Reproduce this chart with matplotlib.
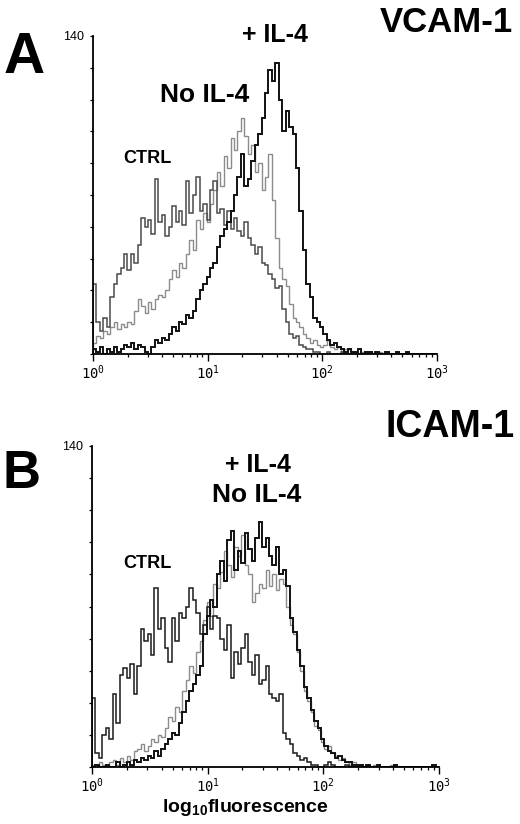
import numpy as np
import matplotlib
matplotlib.use('Agg')
import matplotlib.pyplot as plt
from matplotlib.ticker import LogLocator, NullFormatter

plt.rcParams['font.family'] = ['Liberation Sans', 'DejaVu Sans']
plt.rcParams['mathtext.fontset'] = 'custom'
plt.rcParams['mathtext.rm'] = 'Liberation Sans:bold'
plt.rcParams['mathtext.tt'] = 'DejaVu Sans Mono'

# 100 log-spaced channels from 10^0 to 10^3
edges = np.logspace(0, 3, 101)

# panel A - VCAM-1
vcam_ctrl = [31, 14, 10, 16, 12, 25, 31, 35, 38, 44,
             37, 44, 40, 48, 60, 56, 59, 53, 77, 58,
             61, 52, 56, 65, 58, 63, 57, 76, 62, 70,
             78, 63, 66, 59, 72, 76, 62, 64, 57, 63,
             55, 60, 54, 52, 58, 51, 48, 44, 47, 40,
             39, 35, 33, 29, 30, 20, 14, 9, 7, 8,
             4, 3, 2, 2, 1, 1, 0, 0, 1, 0,
             0, 0, 1, 0, 0, 0, 0, 0, 0, 0,
             0, 0, 0, 0, 0, 0, 0, 0, 0, 0,
             0, 0, 0, 0, 0, 0, 0, 0, 0, 0]
vcam_noil4 = [5, 8, 7, 10, 9, 12, 14, 11, 13, 12,
              14, 13, 19, 24, 21, 18, 23, 20, 24, 26,
              25, 28, 33, 37, 34, 40, 38, 44, 50, 46,
              59, 55, 62, 58, 66, 72, 80, 74, 87, 82,
              95, 90, 98, 104, 96, 88, 92, 80, 84, 72,
              78, 88, 68, 51, 38, 33, 30, 22, 16, 14,
              12, 9, 7, 5, 6, 4, 3, 4, 6, 3,
              2, 3, 1, 2, 2, 1, 1, 0, 1, 0,
              1, 0, 0, 1, 0, 0, 0, 0, 0, 0,
              0, 0, 0, 0, 0, 0, 0, 0, 0, 0]
vcam_il4 = [2, 1, 3, 0, 2, 1, 3, 1, 2, 4,
            3, 5, 2, 4, 3, 1, 0, 3, 6, 5,
            7, 6, 9, 12, 10, 14, 13, 17, 16, 19,
            24, 28, 31, 34, 38, 40, 47, 52, 55, 58,
            63, 70, 78, 88, 74, 77, 85, 92, 97, 104,
            115, 125, 120, 128, 112, 98, 107, 100, 97, 82,
            63, 46, 31, 25, 16, 14, 12, 9, 6, 4,
            5, 3, 2, 1, 2, 1, 1, 2, 0, 1,
            1, 0, 1, 0, 0, 1, 0, 0, 1, 0,
            0, 1, 0, 0, 0, 0, 0, 0, 0, 0]

# panel B - ICAM-1
icam_ctrl = [30, 6, 4, 14, 17, 12, 32, 19, 40, 43,
             39, 45, 32, 44, 60, 55, 58, 49, 78, 60,
             65, 52, 46, 65, 55, 67, 65, 70, 78, 73,
             67, 58, 62, 70, 60, 66, 65, 56, 51, 62,
             39, 50, 45, 52, 58, 46, 40, 49, 36, 38,
             44, 32, 30, 29, 32, 15, 12, 10, 6, 5,
             3, 4, 2, 1, 1, 0, 0, 1, 2, 1,
             0, 0, 0, 1, 0, 0, 0, 0, 0, 0,
             0, 0, 0, 0, 0, 0, 0, 0, 0, 0,
             0, 0, 0, 0, 0, 0, 0, 0, 0, 0]
icam_noil4 = [1, 0, 2, 1, 0, 2, 3, 1, 4, 2,
              5, 3, 7, 8, 10, 7, 9, 12, 11, 14,
              13, 17, 22, 20, 26, 24, 33, 38, 44, 41,
              50, 55, 64, 72, 66, 80, 78, 85, 94, 88,
              83, 96, 92, 101, 88, 84, 72, 76, 80, 78,
              86, 79, 84, 77, 82, 80, 70, 62, 58, 50,
              42, 33, 29, 24, 18, 16, 11, 8, 9, 6,
              5, 3, 4, 2, 1, 2, 1, 1, 0, 1,
              0, 1, 0, 0, 0, 0, 1, 0, 0, 0,
              0, 0, 0, 0, 0, 0, 0, 0, 0, 0]
icam_il4 = [0, 1, 0, 0, 1, 0, 0, 2, 0, 1,
            2, 1, 3, 2, 4, 3, 5, 4, 7, 5,
            8, 10, 12, 15, 14, 19, 24, 29, 33, 36,
            40, 44, 58, 66, 73, 70, 84, 90, 81, 99,
            103, 86, 94, 89, 102, 95, 90, 100, 107, 96,
            100, 92, 88, 96, 84, 86, 79, 65, 59, 51,
            44, 35, 30, 25, 20, 17, 12, 9, 7, 6,
            4, 5, 3, 2, 2, 1, 1, 1, 0, 1,
            0, 0, 1, 0, 0, 0, 0, 1, 0, 0,
            0, 0, 0, 0, 0, 0, 0, 0, 1, 0]

y_ticks = [0, 14, 28, 42, 56, 70, 84, 98, 112, 126, 140]
x_decades = [1, 10, 100, 1000]
x_labels = [r'$\mathtt{10^{0}}$', r'$\mathtt{10^{1}}$', r'$\mathtt{10^{2}}$', r'$\mathtt{10^{3}}$']

W, H = 520, 824
fig = plt.figure(figsize=(W / 100, H / 100), dpi=100)


def frac(x, y):
    return x / W, 1 - y / H


def draw_panel(rect, ctrl, noil4, il4, ctrl_color):
    ax = fig.add_axes(rect)
    ax.stairs(noil4, edges, color='#8c8c8c', lw=1.0)
    ax.stairs(ctrl, edges, color=ctrl_color, lw=1.1)
    ax.stairs(il4, edges, color='#111111', lw=1.4)
    ax.set_xscale('log')
    ax.set_xlim(1, 1000)
    ax.set_ylim(0, 140)
    for s in ['top', 'right']:
        ax.spines[s].set_visible(False)
    for s in ['left', 'bottom']:
        ax.spines[s].set_linewidth(1.3)
    ax.set_yticks(y_ticks)
    ax.set_yticklabels([''] * 10 + ['140'], fontsize=9)
    ax.set_xticks(x_decades)
    ax.set_xticklabels(x_labels, fontsize=10)
    ax.xaxis.set_minor_locator(LogLocator(base=10, subs=range(2, 10)))
    ax.xaxis.set_minor_formatter(NullFormatter())
    ax.tick_params(axis='x', which='major', direction='out', length=5, width=1, pad=2)
    ax.tick_params(axis='x', which='minor', direction='out', length=2.2, width=0.9)
    ax.tick_params(axis='y', direction='out', length=2.2, width=0.9, pad=4)
    return ax


ax_a = draw_panel([93 / W, 1 - 354 / H, 344 / W, 318 / H],
                  vcam_ctrl, vcam_noil4, vcam_il4, '#4a4a4a')
ax_b = draw_panel([92 / W, 1 - 767 / H, 347 / W, 321 / H],
                  icam_ctrl, icam_noil4, icam_il4, '#1a1a1a')

# panel letters and titles
fig.text(*frac(4, 73), 'A', fontsize=41, fontweight='bold', ha='left', va='baseline')
fig.text(*frac(2, 488), 'B', fontsize=38, fontweight='bold', ha='left', va='baseline')
fig.text(*frac(513, 32), 'VCAM-1', fontsize=25, fontweight='bold', ha='right', va='baseline')
fig.text(*frac(515, 437), 'ICAM-1', fontsize=27, fontweight='bold', ha='right', va='baseline')

# curve labels
fig.text(*frac(275, 42), '+ IL-4', fontsize=18, fontweight='bold', ha='center', va='baseline')
fig.text(*frac(205, 102), 'No IL-4', fontsize=19, fontweight='bold', ha='center', va='baseline')
fig.text(*frac(147, 163), 'CTRL', fontsize=13, fontweight='bold', ha='center', va='baseline')
fig.text(*frac(258, 472), '+ IL-4', fontsize=18, fontweight='bold', ha='center', va='baseline')
fig.text(*frac(257, 502), 'No IL-4', fontsize=19, fontweight='bold', ha='center', va='baseline')
fig.text(*frac(147, 568), 'CTRL', fontsize=13, fontweight='bold', ha='center', va='baseline')

fig.text(*frac(245, 812), r'log$_{\mathrm{10}}$fluorescence', fontsize=14,
         fontweight='bold', ha='center', va='baseline')

fig.savefig('out.png', dpi=100)
